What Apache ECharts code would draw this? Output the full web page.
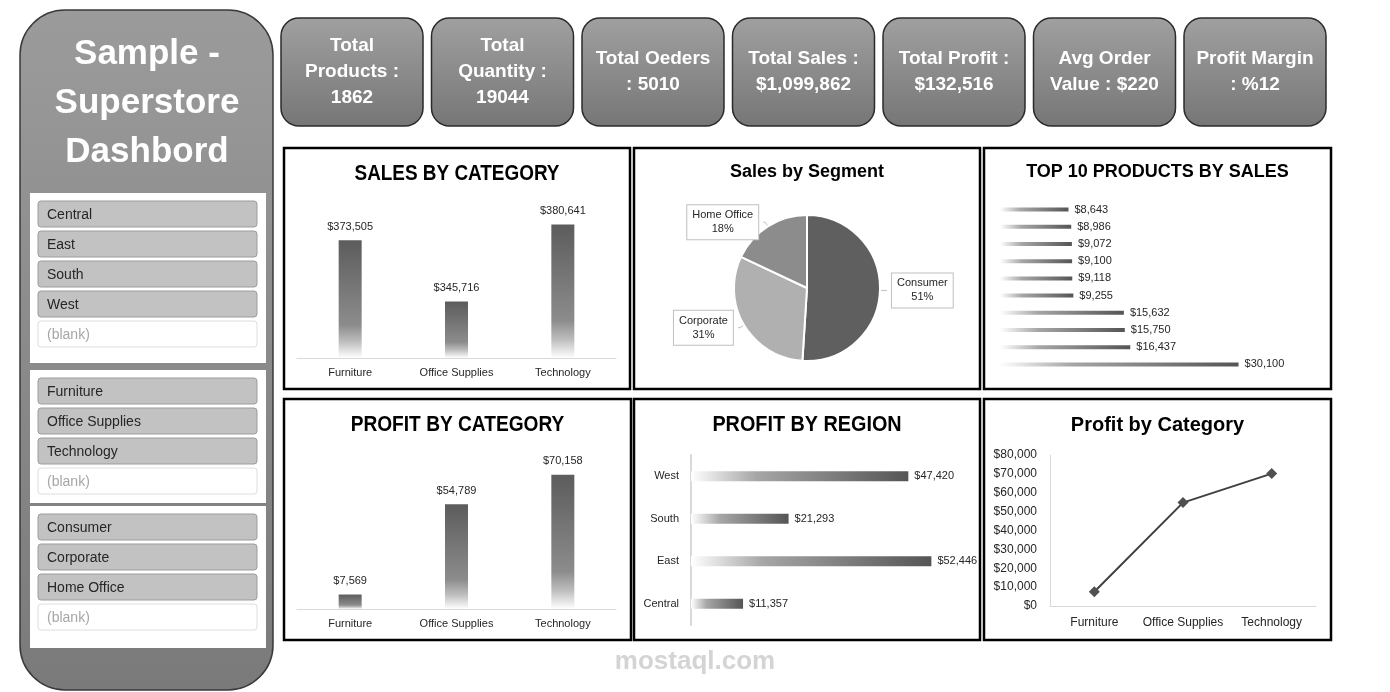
<!DOCTYPE html>
<html>
<head>
<meta charset="utf-8">
<title>Sample - Superstore Dashbord</title>
<script src="https://cdn.jsdelivr.net/npm/echarts@6/dist/echarts.min.js"></script>
<style>
  html, body { margin: 0; padding: 0; background: #fff; }
  #main { width: 1390px; height: 692px; }
</style>
</head>
<body>
<div id="main"></div>
<script>
// slicers
var regionSlicers = ['Central', 'East', 'South', 'West'];
var categorySlicers = ['Furniture', 'Office Supplies', 'Technology'];
var segmentSlicers = ['Consumer', 'Corporate', 'Home Office'];

// kpi cards
var kpiTexts = [
    'Total\nProducts :\n1862',
    'Total\nQuantity :\n19044',
    'Total Oeders\n: 5010',
    'Total Sales :\n$1,099,862',
    'Total Profit :\n$132,516',
    'Avg Order\nValue : $220',
    'Profit Margin\n: %12'
];

// chart data
var categories = ['Furniture', 'Office Supplies', 'Technology'];
var salesByCategory = [373505, 345716, 380641];
var profitByCategory = [7569, 54789, 70158];
var segments = ['Consumer', 'Corporate', 'Home Office'];
var segmentShare = [51, 31, 18];
var topProducts = ['P1', 'P2', 'P3', 'P4', 'P5', 'P6', 'P7', 'P8', 'P9', 'P10'];
var topProductSales = [8643, 8986, 9072, 9100, 9118, 9255, 15632, 15750, 16437, 30100];
var regions = ['Central', 'East', 'South', 'West'];
var profitByRegion = [11357, 52446, 21293, 47420];

var FONT = '"Liberation Sans", Arial, sans-serif';

var money = function (v) {
    return '$' + Number(v).toLocaleString('en-US');
};

var vGrad = function () {
    return new echarts.graphic.LinearGradient(0, 0, 0, 1, [
        {offset: 0, color: '#5c5c5c'},
        {offset: 0.72, color: '#8c8c8c'},
        {offset: 0.86, color: '#bdbdbd'},
        {offset: 1, color: '#ffffff'}
    ]);
};
var hGrad = function () {
    return new echarts.graphic.LinearGradient(0, 0, 1, 0, [
        {offset: 0, color: '#ffffff'},
        {offset: 0.3, color: '#a6a6a6'},
        {offset: 1, color: '#555555'}
    ]);
};

var g = [];

// sidebar
g.push({
    type: 'rect',
    shape: {x: 20, y: 10, width: 253, height: 680, r: 45},
    style: {
        fill: new echarts.graphic.LinearGradient(0, 0, 0, 1, [
            {offset: 0, color: '#9b9b9b'},
            {offset: 1, color: '#7a7a7a'}
        ]),
        stroke: '#3a3a3a', lineWidth: 1.5
    }
});
g.push({
    type: 'text', x: 147, y: 103,
    style: {
        text: 'Sample -\nSuperstore\nDashbord', fill: '#fff',
        font: 'bold 35px ' + FONT, textAlign: 'center', textVerticalAlign: 'middle', lineHeight: 49
    }
});

var slicerGroup = function (items, top, height) {
    g.push({type: 'rect', shape: {x: 30, y: top, width: 236, height: height}, style: {fill: '#fff'}});
    items.concat(['(blank)']).forEach(function (name, i) {
        var y = top + 8 + i * 30;
        var blank = name === '(blank)';
        g.push({
            type: 'rect', shape: {x: 38, y: y, width: 219, height: 26, r: 3},
            style: {fill: blank ? '#fff' : '#c2c2c2', stroke: blank ? '#dedede' : '#9c9c9c', lineWidth: 1}
        });
        g.push({
            type: 'text', x: 47, y: y + 14,
            style: {text: name, fill: blank ? '#a6a6a6' : '#262626', font: '14px ' + FONT, textVerticalAlign: 'middle'}
        });
    });
};
slicerGroup(regionSlicers, 193, 170);
slicerGroup(categorySlicers, 370, 133);
slicerGroup(segmentSlicers, 506, 142);

// kpi cards
kpiTexts.forEach(function (t, i) {
    var x = 281 + i * 150.5;
    g.push({
        type: 'rect', shape: {x: x, y: 18, width: 142, height: 108, r: 18},
        style: {
            fill: new echarts.graphic.LinearGradient(0, 0, 0, 1, [
                {offset: 0, color: '#a0a0a0'},
                {offset: 1, color: '#767676'}
            ]),
            stroke: '#2b2b2b', lineWidth: 1.5
        }
    });
    g.push({
        type: 'text', x: x + 71, y: 72,
        style: {
            text: t, fill: '#fff', font: 'bold 19px ' + FONT,
            textAlign: 'center', textVerticalAlign: 'middle', lineHeight: 26
        }
    });
});

// panel frames + titles (sx squeezes the wide caps titles)
var panels = [
    [284, 148, 346, 241, 'SALES BY CATEGORY', 22, 0.86, 174],
    [634, 148, 346, 241, 'Sales by Segment', 18, 1, 172],
    [984, 148, 347, 241, 'TOP 10 PRODUCTS BY SALES', 18, 1, 172],
    [284, 399, 347, 241, 'PROFIT BY CATEGORY', 22, 0.87, 425],
    [634, 399, 346, 241, 'PROFIT BY REGION', 22, 0.9, 425],
    [984, 399, 347, 241, 'Profit by Category', 20, 1, 425]
];
panels.forEach(function (p) {
    g.push({
        type: 'rect', shape: {x: p[0], y: p[1], width: p[2], height: p[3]},
        style: {fill: 'none', stroke: '#000', lineWidth: 2.5}
    });
    g.push({
        type: 'text', x: p[0] + p[2] / 2, y: p[7], scaleX: p[6],
        style: {text: p[4], fill: '#000', font: 'bold ' + p[5] + 'px ' + FONT, textAlign: 'center', textVerticalAlign: 'middle'}
    });
});

// watermark
g.push({
    type: 'text', x: 695, y: 662,
    style: {text: 'mostaql.com', fill: '#d4d4d4', font: 'bold 26px ' + FONT, textAlign: 'center', textVerticalAlign: 'middle'}
});

var catAxis = function (gi, data, size, margin) {
    return {
        type: 'category', gridIndex: gi, data: data,
        axisLine: {lineStyle: {color: '#d9d9d9'}},
        axisTick: {show: false},
        axisLabel: {fontSize: size, color: '#262626', margin: margin, interval: 0, fontFamily: FONT}
    };
};

var barLabel = {
    show: true, position: 'top', distance: 8, fontSize: 11, color: '#262626', fontFamily: FONT,
    formatter: function (p) { return money(p.value); }
};
var sideLabel = {
    show: true, position: 'right', distance: 6, fontSize: 11, color: '#262626', fontFamily: FONT,
    formatter: function (p) { return money(p.value); }
};

var myChart = echarts.init(document.getElementById('main'));
var option = {
    animation: false,
    textStyle: {fontFamily: FONT},
    graphic: {elements: g},
    grid: [
        {left: 297, top: 204, width: 319, height: 154},
        {left: 1000, top: 201, width: 317, height: 172},
        {left: 297, top: 456, width: 319, height: 153},
        {left: 691, top: 455, width: 275, height: 170},
        {left: 1050, top: 455, width: 266, height: 151}
    ],
    xAxis: [
        catAxis(0, categories, 11, 9),
        {type: 'value', gridIndex: 1, min: 0, max: 40000, show: false},
        catAxis(2, categories, 11, 9),
        {type: 'value', gridIndex: 3, min: 0, max: 60000, show: false},
        catAxis(4, categories, 12, 11)
    ],
    yAxis: [
        {type: 'value', gridIndex: 0, min: 320000, max: 390000, show: false},
        {type: 'category', gridIndex: 1, data: topProducts, inverse: true, show: false},
        {type: 'value', gridIndex: 2, min: 0, max: 80000, show: false},
        {
            type: 'category', gridIndex: 3, data: regions,
            axisLine: {lineStyle: {color: '#d9d9d9', width: 2}},
            axisTick: {show: false},
            axisLabel: {fontSize: 11, color: '#262626', margin: 12, fontFamily: FONT}
        },
        {
            type: 'value', gridIndex: 4, min: 0, max: 80000, interval: 10000,
            axisLine: {show: true, lineStyle: {color: '#d9d9d9'}},
            axisTick: {show: false},
            splitLine: {show: false},
            axisLabel: {fontSize: 12, color: '#262626', margin: 13, fontFamily: FONT, formatter: money}
        }
    ],
    series: [
        {
            name: 'Sales', type: 'bar', xAxisIndex: 0, yAxisIndex: 0,
            data: salesByCategory, barWidth: 23,
            itemStyle: {color: vGrad()}, label: barLabel
        },
        {
            name: 'Top 10', type: 'bar', xAxisIndex: 1, yAxisIndex: 1,
            data: topProductSales, barWidth: 4,
            itemStyle: {color: hGrad()}, label: sideLabel
        },
        {
            name: 'Profit', type: 'bar', xAxisIndex: 2, yAxisIndex: 2,
            data: profitByCategory, barWidth: 23,
            itemStyle: {color: vGrad()}, label: barLabel
        },
        {
            name: 'Region', type: 'bar', xAxisIndex: 3, yAxisIndex: 3,
            data: profitByRegion, barWidth: 10,
            itemStyle: {color: hGrad()}, label: sideLabel
        },
        {
            name: 'Profit line', type: 'line', xAxisIndex: 4, yAxisIndex: 4,
            data: profitByCategory,
            symbol: 'diamond', symbolSize: 11,
            lineStyle: {color: '#404040', width: 2},
            itemStyle: {color: '#505050'}
        },
        {
            name: 'Segment', type: 'pie', center: [807, 288], radius: 73,
            startAngle: 90,
            data: segments.map(function (s, i) {
                return {name: s, value: segmentShare[i]};
            }),
            color: ['#5f5f5f', '#b0b0b0', '#8c8c8c'],
            itemStyle: {borderColor: '#fff', borderWidth: 2},
            label: {
                formatter: '{t|{b}}\n{t|{d}%}', fontSize: 11, color: '#262626', fontFamily: FONT,
                backgroundColor: '#fff', borderColor: '#bfbfbf', borderWidth: 1,
                padding: [3, 5],
                rich: {t: {align: 'center', fontSize: 11, lineHeight: 14, color: '#262626'}}
            },
            labelLine: {length: 5, length2: 2, lineStyle: {color: '#bfbfbf'}},
            emphasis: {disabled: true}
        }
    ]
};
myChart.setOption(option);
</script>
</body>
</html>
